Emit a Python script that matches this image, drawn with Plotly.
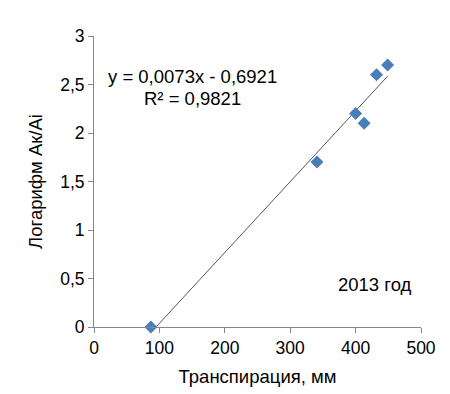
import plotly.graph_objects as go

transpiration = [87, 341, 400, 413, 432, 449]
log_ratio = [0.0, 1.7, 2.2, 2.1, 2.6, 2.7]
slope = 0.0073
intercept = -0.6921
equation_line = "y = 0,0073x - 0,6921"
r2_line = "R² = 0,9821"
year_label = "2013 год"

x_line = [min(transpiration), max(transpiration)]
y_line = [slope * v + intercept for v in x_line]

font_family = "Liberation Sans, Arial, sans-serif"
axis_color = "#868686"

fig = go.Figure()
fig.add_trace(go.Scatter(x=x_line, y=y_line, mode="lines",
                         line=dict(color="#555555", width=1), hoverinfo="skip",
                         showlegend=False))
fig.add_trace(go.Scatter(x=transpiration, y=log_ratio, mode="markers",
                         marker=dict(symbol="diamond", size=10, color="#4a7ebb"),
                         cliponaxis=False, showlegend=False))

fig.add_annotation(x=150, y=2.58, xref="x", yref="y", text=equation_line,
                   showarrow=False,
                   font=dict(family=font_family, size=18.5, color="#000000"))
fig.add_annotation(x=151, y=2.36, xref="x", yref="y", text=r2_line,
                   showarrow=False,
                   font=dict(family=font_family, size=18.5, color="#000000"))
fig.add_annotation(x=429, y=0.44, xref="x", yref="y", text=year_label,
                   showarrow=False,
                   font=dict(family=font_family, size=18.5, color="#000000"))

fig.update_layout(
    width=450, height=394,
    margin=dict(l=86, r=37, t=28, b=75),
    paper_bgcolor="white", plot_bgcolor="white",
    separators=", ",
    font=dict(family=font_family, size=17.5, color="#000000"),
    xaxis=dict(range=[0, 500], dtick=100, tick0=0, showgrid=False, zeroline=False,
               showline=True, linecolor=axis_color, linewidth=1,
               ticks="outside", ticklen=5, tickcolor=axis_color,
               title=dict(text="Транспирация, мм", standoff=13,
                          font=dict(size=18.5))),
    yaxis=dict(range=[0, 3], dtick=0.5, tick0=0, showgrid=False, zeroline=False,
               showline=True, linecolor=axis_color, linewidth=1,
               ticks="outside", ticklen=5, tickcolor=axis_color,
               title=dict(text="Логарифм Ак/Аi", standoff=12,
                          font=dict(size=18.5))),
)

fig.write_html("out.html")
